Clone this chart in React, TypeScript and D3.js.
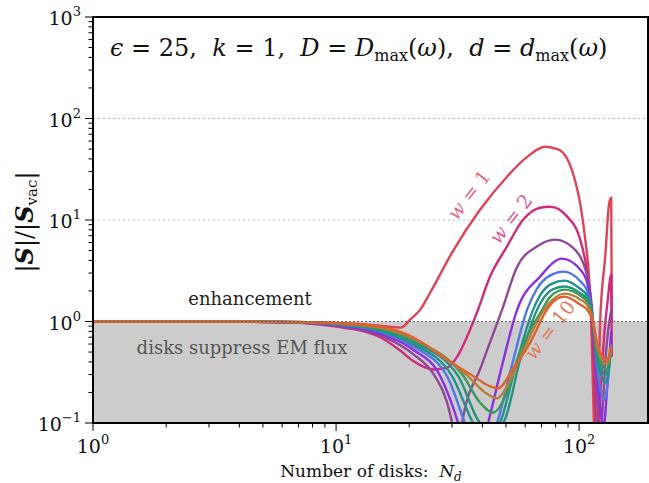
import * as d3 from 'd3'

// axis limits
const ND_MIN = 1
const ND_MAX = 192
const S_MIN = 0.1
const S_MAX = 1000

const X_MAJOR = [1, 10, 100]
const X_MAJOR_EXP = ['0', '1', '2']
const Y_MAJOR = [0.1, 1, 10, 100, 1000]
const Y_MAJOR_EXP = ['\u22121', '0', '1', '2', '3']

// |S|/|S_vac| vs N_d, one series per w
const W1: [number, number][] = [
  [1, 1], [4, 1], [8, 0.98], [12, 0.95], [15, 0.91], [18.5, 0.87], [20.2, 1.05], [22.2, 1.31],
  [24.4, 1.93], [30, 4.77], [39.1, 12.6], [50.5, 26.7], [61.1, 41.9], [72.5, 52.6], [80, 50.5],
  [85.9, 45.9], [96, 24.9], [101, 14.5], [106, 6.4], [110, 2.6], [112, 1.05], [115, 0.1],
  [117, 0.02], [119, 0.1], [122, 0.98], [128, 4.35], [133, 14.8], [135.5, 16.6], [136.3, 1.0],
]
const W2: [number, number][] = [
  [1, 1], [4, 0.995], [7, 0.97], [10, 0.89], [13, 0.8], [15.2, 0.7], [18.3, 0.52], [20.7, 0.41],
  [25.1, 0.337], [28.6, 0.35], [31.5, 0.45], [34.6, 0.71], [38, 1.23], [43, 2.77], [50.5, 5.5],
  [58.9, 10.1], [69.1, 13.2], [76, 13.5], [89.3, 10.8], [101, 6.4], [108, 3.0], [113, 1.05],
  [117, 0.1], [119, 0.03], [121, 0.1], [126, 0.6], [131, 1.6], [135.5, 2.9], [136.3, 0.45],
]
const W3: [number, number][] = [
  [1, 1], [4, 0.995], [7, 0.975], [10, 0.91], [15.2, 0.73], [20.7, 0.48], [25.5, 0.29], [28.6, 0.16],
  [30, 0.1], [31.5, 0.045], [33, 0.1], [39.7, 0.37], [48.2, 1.31], [55.6, 3.47], [67.2, 5.5],
  [79.7, 6.4], [94.5, 5.3], [108, 2.8], [114, 1.0], [117, 0.3], [120, 0.1], [122, 0.05], [124, 0.1],
  [129, 0.5], [135.5, 1.3],
]
const W4: [number, number][] = [
  [1, 1], [4, 0.997], [7, 0.978], [10, 0.92], [15.2, 0.76], [20.7, 0.53], [26.8, 0.29], [31.8, 0.1],
  [36.5, 0.03], [42.2, 0.1], [48.2, 0.37], [55.6, 1.31], [69.1, 2.77], [85, 4.16], [101, 3.25],
  [108, 2.4], [114, 1.0], [118, 0.35], [122, 0.15], [126, 0.09], [130, 0.2], [135.5, 0.8],
]
const W5: [number, number][] = [
  [1, 1], [4, 0.997], [7, 0.98], [10, 0.93], [15.2, 0.79], [20.7, 0.57], [28.6, 0.29], [33.9, 0.1],
  [39.5, 0.04], [46, 0.1], [52.9, 0.37], [61.1, 1.31], [67, 2.1], [76, 2.85], [86, 3.1], [101, 2.5],
  [108, 2.0], [114, 1.0], [118, 0.4], [122, 0.22], [127, 0.17], [131, 0.25], [135.5, 0.6],
]
const W6: [number, number][] = [
  [1, 1], [4, 0.998], [7, 0.983], [10, 0.94], [15.2, 0.81], [20.7, 0.6], [30, 0.29], [36.6, 0.1],
  [41.6, 0.06], [47.3, 0.1], [55.4, 0.4], [64.7, 1.31], [70, 1.9], [77, 2.35], [87, 2.53], [101, 2.1],
  [108, 1.8], [114, 1.0], [118, 0.45], [123, 0.3], [128, 0.25], [132, 0.32], [135.5, 0.55],
]
const W7: [number, number][] = [
  [1, 1], [4, 0.998], [7, 0.985], [10, 0.95], [15.2, 0.83], [20.7, 0.63], [31.8, 0.29], [39.1, 0.1],
  [43.6, 0.085], [48.7, 0.1], [57.2, 0.42], [67.2, 1.31], [72, 1.75], [78, 2.08], [87, 2.21], [101, 1.9],
  [108, 1.65], [114, 1.0], [118, 0.5], [123, 0.35], [129, 0.3], [132, 0.36], [135.5, 0.55],
]
const W8: [number, number][] = [
  [1, 1], [4, 0.998], [7, 0.987], [10, 0.955], [15.2, 0.85], [20.7, 0.66], [33.4, 0.29], [39, 0.16],
  [44.3, 0.127], [50, 0.19], [56.1, 0.45], [70.5, 1.31], [76, 1.75], [87, 2.06], [101, 1.8],
  [108, 1.55], [114, 1.0], [118, 0.55], [124, 0.38], [129.5, 0.34], [133, 0.4], [135.5, 0.55],
]
const W9: [number, number][] = [
  [1, 1], [4, 0.999], [7, 0.99], [10, 0.96], [15.2, 0.87], [20.7, 0.68], [34.9, 0.29], [41, 0.2],
  [46, 0.175], [51, 0.24], [58.2, 0.48], [71.8, 1.31], [78, 1.65], [87, 1.88], [101, 1.65],
  [108, 1.45], [114, 1.0], [118, 0.6], [124, 0.42], [130, 0.38], [133, 0.44], [135.5, 0.56],
]
const W10: [number, number][] = [
  [1, 1], [4, 0.999], [7, 0.99], [10, 0.965], [15.2, 0.89], [20.7, 0.7], [28.6, 0.42], [36.6, 0.29],
  [43, 0.23], [46.4, 0.22], [53.4, 0.34], [62.9, 0.62], [73.7, 1.31], [79, 1.6], [87, 1.76],
  [101, 1.47], [108, 1.3], [114, 1.0], [118, 0.65], [124, 0.46], [130, 0.42], [133, 0.47], [135.5, 0.57],
]

const SERIES = [W1, W2, W3, W4, W5, W6, W7, W8, W9, W10]
const COLORS = ['#dc4458', '#cf2b7c', '#8e4896', '#8b2fe0', '#5077e2', '#21908f', '#27927d', '#3a9a5b', '#b6803a', '#e0612c']

const FONT = "'DejaVu Serif', serif"

export default function App() {
  const W = 649
  const H = 483
  const left = 93, right = 648, top = 17, bottom = 423

  const x = d3.scaleLog().domain([ND_MIN, ND_MAX]).range([left, right])
  const y = d3.scaleLog().domain([S_MIN, S_MAX]).range([bottom, top])

  const line = d3.line<[number, number]>()
    .x(d => x(d[0]))
    .y(d => y(d[1]))
    .curve(d3.curveMonotoneX)

  const xTicks = x.ticks().filter(t => t >= ND_MIN && t <= ND_MAX)
  const yTicks = y.ticks()
  const isMajor = (t: number) => Math.abs(Math.log10(t) - Math.round(Math.log10(t))) < 1e-9

  return (
    <svg width={W} height={H} style={{ position: 'absolute', left: 0, top: 0, background: '#fff', fontFamily: FONT }}>
      <defs>
        <clipPath id="plot">
          <rect x={left} y={top} width={right - left} height={bottom - top} />
        </clipPath>
      </defs>

      {/* suppression band */}
      <rect x={left} y={y(1)} width={right - left} height={y(S_MIN) - y(1)} fill="#cccccc" />

      {/* grid at 10 and 100 */}
      {[10, 100].map(v => (
        <line key={v} x1={left} x2={right} y1={y(v)} y2={y(v)} stroke="#b8b8b8" strokeWidth={1} strokeDasharray="2,3" />
      ))}

      <g clipPath="url(#plot)">
        {SERIES.map((s, i) => (
          <path key={i} d={line(s) || ''} fill="none" stroke={COLORS[i]} strokeWidth={2.4} strokeLinejoin="round" />
        ))}
      </g>

      <line x1={left} x2={right} y1={y(1)} y2={y(1)} stroke="#666" strokeWidth={1} strokeDasharray="2,2" />

      {/* frame */}
      <rect x={left} y={top} width={right - left} height={bottom - top} fill="none" stroke="#000" strokeWidth={2} />

      <g style={{ fontFamily: FONT }}>
        {/* x ticks */}
        {xTicks.map(t => (
          <line key={'xt' + t} x1={x(t)} x2={x(t)} y1={bottom} y2={bottom + (isMajor(t) ? 8 : 4.5)} stroke="#000" strokeWidth={1} />
        ))}
        {X_MAJOR.map((t, i) => (
          <text key={'xl' + t} x={x(t)} y={453} textAnchor="middle" fontSize={19} fill="#111">
            10<tspan dy={-9} fontSize={13}>{X_MAJOR_EXP[i]}</tspan>
          </text>
        ))}

        {/* y ticks */}
        {yTicks.map(t => (
          <line key={'yt' + t} x1={left} x2={left - (isMajor(t) ? 8 : 4.5)} y1={y(t)} y2={y(t)} stroke="#000" strokeWidth={1} />
        ))}
        {Y_MAJOR.map((t, i) => (
          <text key={'yl' + t} x={81} y={y(t) + 8} textAnchor="end" fontSize={19} fill="#111">
            10<tspan dy={-9} fontSize={13}>{Y_MAJOR_EXP[i]}</tspan>
          </text>
        ))}

        {/* axis titles */}
        <text x={371} y={477} textAnchor="middle" fontSize={17} fill="#111" xmlSpace="preserve">
          Number of disks:  <tspan fontStyle="italic">N</tspan><tspan fontStyle="italic" fontSize={12} dy={4}>d</tspan>
        </text>
        <text transform="translate(33,222) rotate(-90)" textAnchor="middle" fontSize={24} fill="#111">
          |<tspan fontWeight="bold" fontStyle="italic">S</tspan>|/|<tspan fontWeight="bold" fontStyle="italic">S</tspan><tspan fontSize={15} dy={4}>vac</tspan><tspan dy={-4}>|</tspan>
        </text>

        {/* header */}
        <text x={110} y={56} fontSize={24} fill="#111" xmlSpace="preserve">
          <tspan fontStyle="italic">ϵ</tspan> = 25,  <tspan fontStyle="italic">k</tspan> = 1,  <tspan fontStyle="italic">D</tspan> = <tspan fontStyle="italic">D</tspan><tspan fontSize={16} dy={5}>max</tspan><tspan dy={-5}>(</tspan><tspan fontStyle="italic">ω</tspan>),  <tspan fontStyle="italic">d</tspan> = <tspan fontStyle="italic">d</tspan><tspan fontSize={16} dy={5}>max</tspan><tspan dy={-5}>(</tspan><tspan fontStyle="italic">ω</tspan>)
        </text>

        {/* region notes */}
        <text x={250} y={305} textAnchor="middle" fontSize={18} fill="#222">enhancement</text>
        <text x={242} y={354} textAnchor="middle" fontSize={18} fill="#555">disks suppress EM flux</text>

        {/* curve labels */}
        <text transform="translate(474,199) rotate(-52)" textAnchor="middle" fontSize={19} fill="#e2647c" xmlSpace="preserve">
          <tspan fontStyle="italic">w</tspan> = 1
        </text>
        <text transform="translate(516,223) rotate(-52)" textAnchor="middle" fontSize={19} fill="#d8569c" xmlSpace="preserve">
          <tspan fontStyle="italic">w</tspan> = 2
        </text>
        <text transform="translate(555,334) rotate(-52)" textAnchor="middle" fontSize={19} fill="#e3785a" xmlSpace="preserve">
          <tspan fontStyle="italic">w</tspan> = 10
        </text>
      </g>
    </svg>
  )
}
